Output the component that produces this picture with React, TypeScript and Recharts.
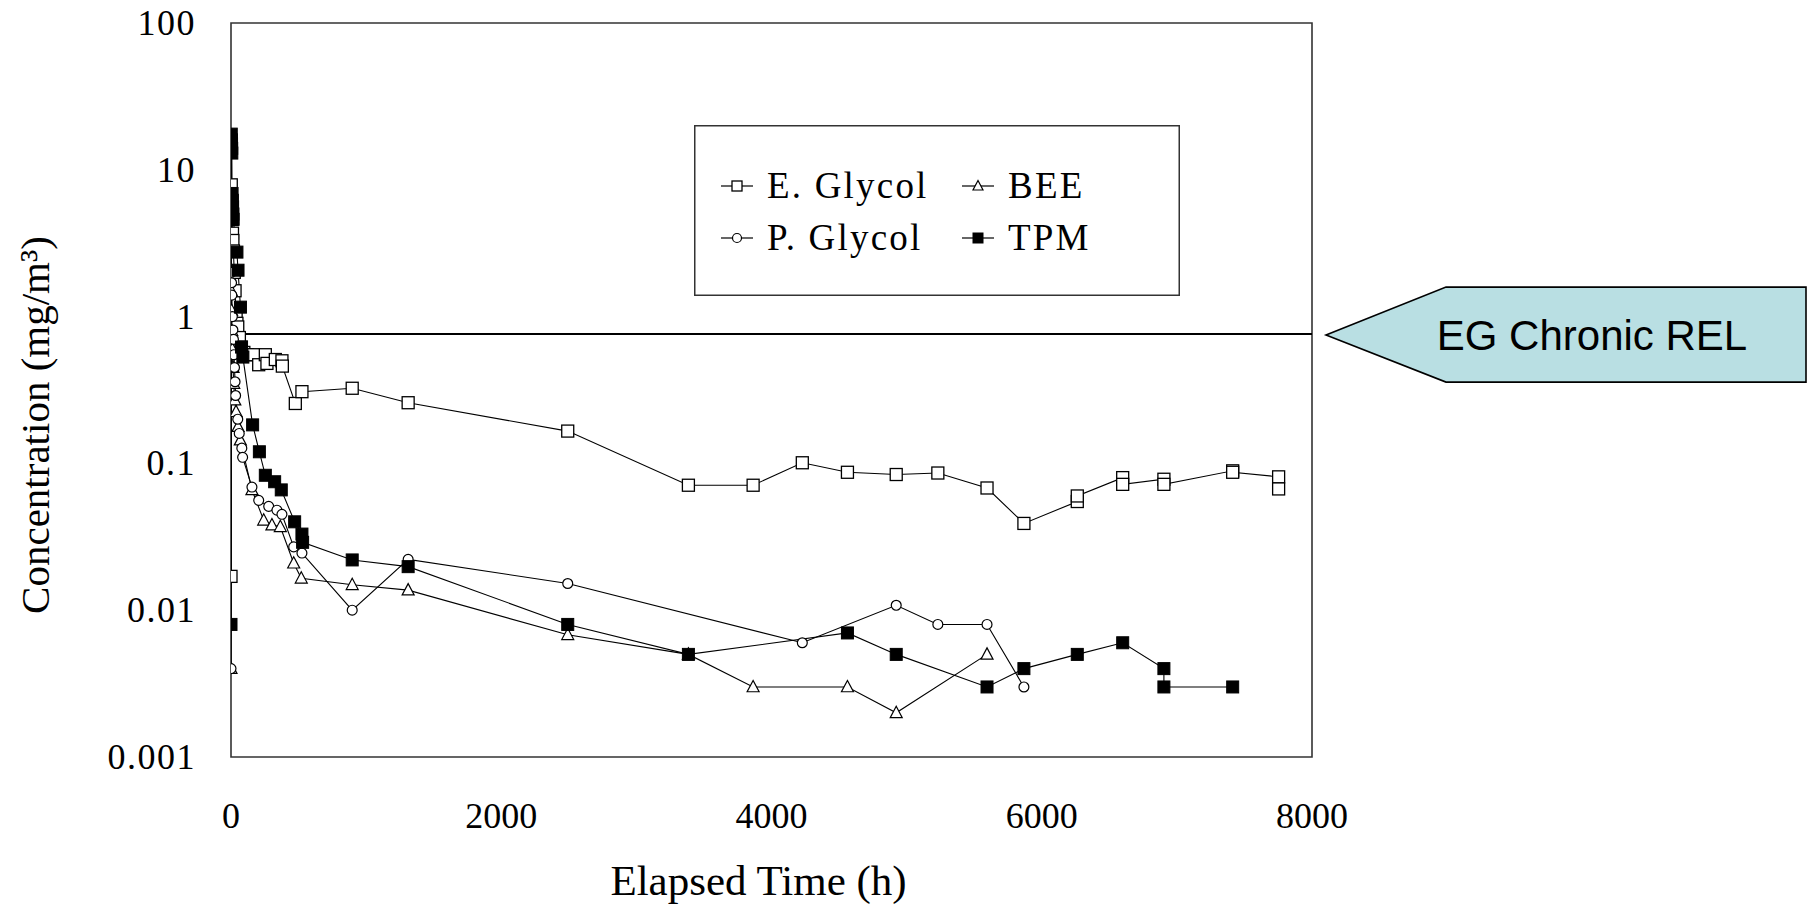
import React from 'react';
import { LineChart, Line, XAxis, YAxis, ReferenceLine, ReferenceArea, Label } from 'recharts';

// ---------- data ----------
const egTime = [0, 2, 4, 6, 8, 11, 14, 18, 24, 30, 38, 44, 50, 62, 75, 95, 120, 168, 205, 254, 266, 328, 377, 380, 476, 525, 897, 1311, 2492, 3385, 3864, 4228, 4562, 4923, 5231, 5595, 5868, 6263, 6263, 6599, 6599, 6904, 6904, 7413, 7413, 7753, 7753];
const egConc = [0.017, 7.9, 6.0, 5.2, 4.6, 3.7, 3.3, 2.8, 2.0, 1.5, 1.0, 0.9, 0.85, 0.72, 0.62, 0.57, 0.55, 0.55, 0.47, 0.55, 0.48, 0.51, 0.5, 0.46, 0.256, 0.308, 0.325, 0.259, 0.166, 0.071, 0.071, 0.101, 0.087, 0.084, 0.086, 0.068, 0.039, 0.055, 0.06, 0.08, 0.072, 0.078, 0.072, 0.089, 0.087, 0.081, 0.067];

const pgTime = [0, 2, 4, 6, 10, 14, 18, 22, 26, 30, 34, 50, 61, 80, 86, 155, 205, 279, 340, 377, 464, 525, 897, 1311, 2492, 4228, 4923, 5231, 5595, 5868];
const pgConc = [0.004, 2.0, 1.7, 1.4, 1.0, 0.81, 0.7, 0.55, 0.45, 0.36, 0.29, 0.2, 0.16, 0.127, 0.11, 0.069, 0.056, 0.051, 0.048, 0.045, 0.027, 0.0245, 0.01, 0.0222, 0.0152, 0.006, 0.0108, 0.008, 0.008, 0.003];

const beeTime = [0, 2, 4, 6, 10, 15, 20, 28, 37, 52, 69, 155, 242, 303, 365, 464, 520, 897, 1311, 2492, 3385, 3864, 4562, 4923, 5595];
const beeConc = [0.004, 1.5, 1.1, 0.8, 0.6, 0.45, 0.35, 0.27, 0.225, 0.178, 0.144, 0.066, 0.041, 0.038, 0.037, 0.0209, 0.0165, 0.0149, 0.0137, 0.0068, 0.005, 0.003, 0.003, 0.002, 0.005];

const tpmTime = [0, 2, 3, 4, 5, 6, 8, 10, 12, 14, 16, 44, 52, 70, 78, 88, 160, 210, 254, 323, 372, 471, 525, 530, 897, 1311, 2492, 3385, 4562, 4923, 5595, 5868, 6263, 6599, 6904, 6904, 7413];
const tpmConc = [0.008, 17.5, 16, 15, 14, 13, 6.9, 6.2, 5.6, 5.0, 4.6, 2.75, 2.07, 1.16, 0.62, 0.53, 0.183, 0.12, 0.083, 0.075, 0.066, 0.04, 0.033, 0.029, 0.022, 0.0198, 0.008, 0.005, 0.007, 0.005, 0.003, 0.004, 0.005, 0.006, 0.004, 0.003, 0.003];

const xTicks = [0, 2000, 4000, 6000, 8000];
const yTicks = [0.001, 0.01, 0.1, 1, 10, 100];
const yTickLabels = ['0.001', '0.01', '0.1', '1', '10', '100'];
const relValue = 0.76;
const relLabel = 'EG Chronic REL';
const seriesNames = ['E. Glycol', 'BEE', 'P. Glycol', 'TPM'];

const build = (t: number[], v: number[]) => t.map((x, i) => ({ t: x, v: v[i] }));
const egData = build(egTime, egConc);
const pgData = build(pgTime, pgConc);
const beeData = build(beeTime, beeConc);
const tpmData = build(tpmTime, tpmConc);

const SERIF = '"Liberation Serif", "Times New Roman", serif';
const SANS = '"Liberation Sans", Arial, sans-serif';

type Kind = 'square' | 'circle' | 'triangle' | 'filled';

function marker(kind: Kind, cx: number, cy: number, s: number, key?: string) {
  const h = s / 2;
  if (kind === 'square')
    return <rect key={key} x={cx - h} y={cy - h} width={s} height={s} fill="#fff" stroke="#000" strokeWidth={1.3} />;
  if (kind === 'filled')
    return <rect key={key} x={cx - h} y={cy - h} width={s} height={s} fill="#000" stroke="#000" strokeWidth={1} />;
  if (kind === 'circle')
    return <circle key={key} cx={cx} cy={cy} r={h * 0.9} fill="#fff" stroke="#000" strokeWidth={1.2} />;
  return (
    <polygon
      key={key}
      points={`${cx},${cy - h - 0.5} ${cx - h},${cy + h * 0.8} ${cx + h},${cy + h * 0.8}`}
      fill="#fff"
      stroke="#000"
      strokeWidth={1.2}
    />
  );
}

const makeDot = (kind: Kind, size: number) => (props: any) => {
  const { cx, cy, index } = props;
  const key = `${kind}-${index}`;
  if (cx == null || cy == null || isNaN(cx) || isNaN(cy)) return <g key={key} />;
  return marker(kind, cx, cy, size, key);
};

const XTick = (props: any) => {
  const { x, y, payload } = props;
  return (
    <text x={x} y={y + 71} textAnchor="middle" fontFamily={SERIF} fontSize={36} fill="#000">
      {payload.value}
    </text>
  );
};

const YTick = (props: any) => {
  const { x, y, payload } = props;
  const idx = yTicks.indexOf(payload.value);
  return (
    <text x={x - 35} y={y + 12} textAnchor="end" fontFamily={SERIF} fontSize={36} letterSpacing={1.5} fill="#000">
      {idx >= 0 ? yTickLabels[idx] : payload.value}
    </text>
  );
};

const CalloutLabel = (props: any) => {
  const vb = props.viewBox || {};
  const xr = vb.x + vb.width;
  const y = vb.y;
  const pts = [
    [xr + 14, y + 1],
    [xr + 134, y - 47],
    [xr + 494, y - 47],
    [xr + 494, y + 48],
    [xr + 134, y + 48],
  ]
    .map((p) => p.join(','))
    .join(' ');
  return (
    <g>
      <polygon points={pts} fill="#B9DFE3" stroke="#000" strokeWidth={1.6} />
      <text x={xr + 280} y={y + 16} textAnchor="middle" fontFamily={SANS} fontSize={42} fill="#000">
        {relLabel}
      </text>
    </g>
  );
};

const LegendBox = () => {
  const rows = [
    { kind: 'square' as Kind, name: seriesNames[0], cx: 43, tx: 73, cy: 61 },
    { kind: 'triangle' as Kind, name: seriesNames[1], cx: 284, tx: 314, cy: 61 },
    { kind: 'circle' as Kind, name: seriesNames[2], cx: 43, tx: 73, cy: 113 },
    { kind: 'filled' as Kind, name: seriesNames[3], cx: 284, tx: 314, cy: 113 },
  ];
  return (
    <svg width={486} height={171} style={{ display: 'block' }}>
      <rect x={0.75} y={0.75} width={484.5} height={169.5} fill="#fff" stroke="#333" strokeWidth={1.5} />
      {rows.map((r) => (
        <g key={r.name}>
          <line x1={r.cx - 16} x2={r.cx + 16} y1={r.cy} y2={r.cy} stroke="#000" strokeWidth={1.2} />
          {marker(r.kind, r.cx, r.cy, 10)}
          <text x={r.tx} y={r.cy + 12} fontFamily={SERIF} fontSize={37} letterSpacing={2.2} fill="#000">
            {r.name}
          </text>
        </g>
      ))}
    </svg>
  );
};

export default function App() {
  return (
    <div style={{ position: 'relative', width: 1810, height: 905 }}>
      <style>{'body{margin:0;}'}</style>
      <LineChart width={1810} height={905} margin={{ top: 23, right: 498, bottom: 88, left: 0 }}>
        <XAxis
          type="number"
          dataKey="t"
          domain={[0, 8000]}
          ticks={xTicks}
          interval={0}
          allowDataOverflow
          axisLine={false}
          tickLine={false}
          tickSize={0}
          tickMargin={0}
          height={60}
          tick={XTick}
        >
          <Label
            content={(p: any) => {
              const vb = p.viewBox || {};
              return (
                <text x={vb.x + vb.width / 2 - 13} y={895} textAnchor="middle" fontFamily={SERIF} fontSize={43} fill="#000">
                  Elapsed Time (h)
                </text>
              );
            }}
          />
        </XAxis>
        <YAxis
          type="number"
          dataKey="v"
          scale="log"
          domain={[0.001, 100]}
          ticks={yTicks}
          interval={0}
          allowDataOverflow
          width={231}
          axisLine={false}
          tickLine={false}
          tickSize={0}
          tickMargin={0}
          tick={YTick}
        >
          <Label
            content={(p: any) => {
              const vb = p.viewBox || {};
              const cx = 35;
              const cy = vb.y + vb.height / 2 + 35;
              return (
                <text
                  x={cx}
                  y={cy}
                  transform={`rotate(-90 ${cx} ${cy})`}
                  textAnchor="middle"
                  dominantBaseline="central"
                  fontFamily={SERIF}
                  fontSize={41}
                  fill="#000"
                >
                  Concentration (mg/m³)
                </text>
              );
            }}
          />
        </YAxis>
        <ReferenceArea x1={0} x2={8000} y1={0.001} y2={100} fill="none" stroke="#333" strokeWidth={1.6} fillOpacity={0} />
        <ReferenceLine y={relValue} stroke="#000" strokeWidth={2} label={<CalloutLabel />} />
        <Line data={egData} dataKey="v" name={seriesNames[0]} stroke="#000" strokeWidth={1.1} isAnimationActive={false} dot={makeDot('square', 12)} activeDot={false} />
        <Line data={beeData} dataKey="v" name={seriesNames[1]} stroke="#000" strokeWidth={1.1} isAnimationActive={false} dot={makeDot('triangle', 12)} activeDot={false} />
        <Line data={pgData} dataKey="v" name={seriesNames[2]} stroke="#000" strokeWidth={1.1} isAnimationActive={false} dot={makeDot('circle', 11)} activeDot={false} />
        <Line data={tpmData} dataKey="v" name={seriesNames[3]} stroke="#000" strokeWidth={1.1} isAnimationActive={false} dot={makeDot('filled', 12)} activeDot={false} />
      </LineChart>
      <div style={{ position: 'absolute', left: 694, top: 125 }}>
        <LegendBox />
      </div>
    </div>
  );
}
